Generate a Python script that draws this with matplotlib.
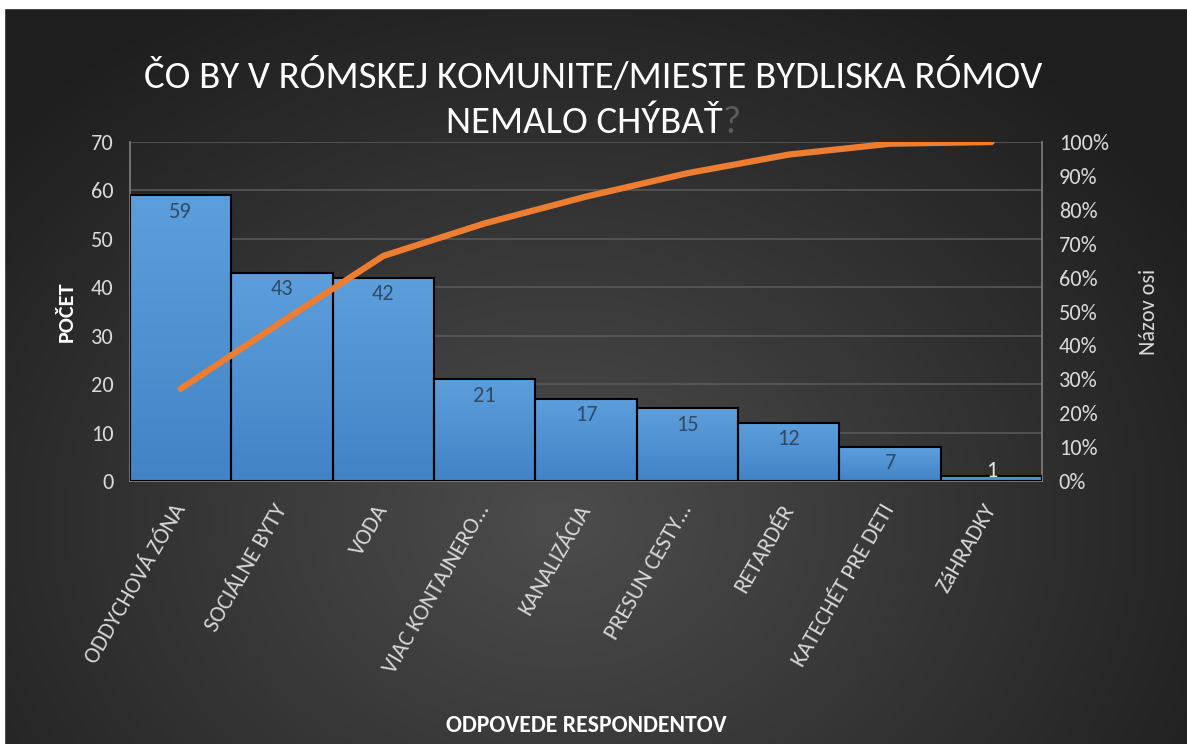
import numpy as np
import matplotlib
matplotlib.use("Agg")
import matplotlib.pyplot as plt
from matplotlib.ticker import PercentFormatter

categories = ["ODDYCHOVÁ ZÓNA", "SOCIÁLNE BYTY", "VODA", "VIAC KONTAJNERO…",
              "KANALIZÁCIA", "PRESUN CESTY…", "RETARDÉR", "KATECHÉT PRE DETI", "ZáHRADKY"]
counts = [59, 43, 42, 21, 17, 15, 12, 7, 1]
cumulative_pct = [27.2, 47.0, 66.4, 76.0, 83.9, 90.8, 96.3, 99.5, 100.0]

plt.rcParams['font.family'] = ['Carlito', 'DejaVu Sans']
TXT = '#d9d9d9'

fig = plt.figure(figsize=(11.87, 7.44), dpi=100)

# radial gradient background
bg = fig.add_axes([0, 0, 1, 1], zorder=-10)
yy, xx = np.mgrid[0:744, 0:1187]
r = np.sqrt(((xx - 560) / 700.0) ** 2 + ((yy - 520) / 560.0) ** 2)
shade = np.clip(0.30 - 0.17 * r, 0.12, 0.30)
bg.imshow(np.dstack([shade] * 3), aspect='auto', extent=[0, 1, 0, 1])
bg.axhspan(0.989, 1.0, color='white')
bg.axvspan(0, 0.003, color='white')
bg.set_xlim(0, 1)
bg.set_ylim(0, 1)
bg.axis('off')

ax = fig.add_axes([0.1095, 0.3535, 0.7685, 0.4556])
ax.patch.set_alpha(0)
x = np.arange(len(categories))
bars = ax.bar(x, counts, width=1.0, color='#4f91d3', edgecolor='black', linewidth=1.5, zorder=2)

# vertical gradient on bars
grad = np.linspace(0, 1, 256).reshape(-1, 1)
cmap = matplotlib.colors.LinearSegmentedColormap.from_list('b', ['#4283c6', '#5d9fdc'])
for b in bars:
    im = ax.imshow(grad, cmap=cmap, aspect='auto', origin='lower',
                   extent=[b.get_x(), b.get_x() + b.get_width(), 0, b.get_height()], zorder=2)
    im.set_clip_path(b)
    b.set_facecolor('none')
    b.set_zorder(3)

ax.set_xlim(-0.5, len(categories) - 0.5)
ax.set_ylim(0, 70)
ax.set_yticks(range(0, 71, 10))
ax.grid(axis='y', color='#585858', linewidth=1.2, zorder=0)
ax.set_axisbelow(True)
ax.spines['top'].set_visible(False)
for s in ['left', 'right', 'bottom']:
    ax.spines[s].set_color('#7f7f7f')
    ax.spines[s].set_linewidth(1.2)
ax.tick_params(axis='y', colors=TXT, labelsize=16, length=0, pad=12)
ax.tick_params(axis='x', colors=TXT, labelsize=16.5, length=0, pad=18)
ax.set_xticks(x)
ax.set_xticklabels(categories, rotation=60, ha='right', va='center', rotation_mode='anchor')

for i, v in enumerate(counts):
    if v >= 3:
        ax.text(i, v - 1.3, str(v), ha='center', va='top', color='#2f4b66', fontsize=16, zorder=5)
    else:
        ax.text(i, 0.1, str(v), ha='center', va='bottom', color='#e6e6e6', fontsize=16, zorder=5)

ax.set_ylabel('POČET', color='white', fontsize=16, fontweight='bold', labelpad=10)
ax.set_xlabel('ODPOVEDE RESPONDENTOV', color='white', fontsize=17, fontweight='bold')
ax.xaxis.set_label_coords(0.5, -0.69)

ax2 = ax.twinx()
ax2.plot(x, cumulative_pct, color='#ed7d31', linewidth=4.5, solid_capstyle='round',
         solid_joinstyle='round', zorder=6)
ax2.set_ylim(0, 100)
ax2.set_yticks(range(0, 101, 10))
ax2.yaxis.set_major_formatter(PercentFormatter(decimals=0))
ax2.tick_params(axis='y', colors=TXT, labelsize=16, length=0, pad=12)
for s in ax2.spines.values():
    s.set_visible(False)
ax2.set_ylabel('Názov osi', color=TXT, fontsize=16, labelpad=22)

# title with grey question mark
title_font = dict(color='white', fontsize=28)
fig.text(0.5, 0.897, 'ČO BY V RÓMSKEJ KOMUNITE/MIESTE BYDLISKA RÓMOV', ha='center', va='center',
         **title_font)
fig.canvas.draw()
rend = fig.canvas.get_renderer()
t2 = fig.text(0, 0.836, 'NEMALO CHÝBAŤ', ha='left', va='center', **title_font)
tq = fig.text(0, 0.836, '?', ha='left', va='center', **dict(title_font, color='#5c5c5c'))
w2 = t2.get_window_extent(rend).width / fig.bbox.width
wq = tq.get_window_extent(rend).width / fig.bbox.width
x0 = 0.5 - (w2 + wq) / 2
t2.set_x(x0)
tq.set_x(x0 + w2)

fig.savefig('out.png', dpi=100)
